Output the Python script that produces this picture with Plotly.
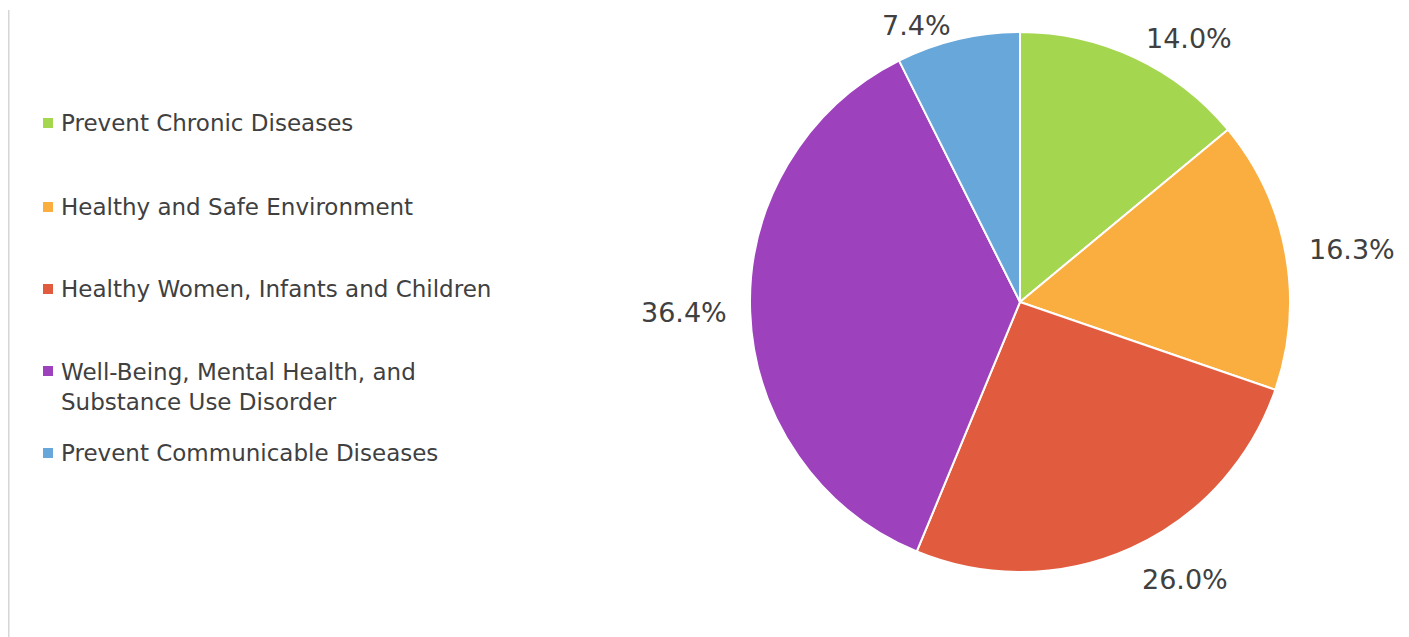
import math
import plotly.graph_objects as go

categories = [
    "Prevent Chronic Diseases",
    "Healthy and Safe Environment",
    "Healthy Women, Infants and Children",
    "Well-Being, Mental Health, and<br>Substance Use Disorder",
    "Prevent Communicable Diseases",
]
values = [14.0, 16.3, 26.0, 36.4, 7.4]
colors = ["#A4D74F", "#FAAE40", "#E15C3F", "#9D42BC", "#67A7D9"]

W, H = 1409, 637
OFF = 8  # page body margin offset
TEXT = "#404040"
FONT = "DejaVu Sans"


def px_x(x):
    return (x - OFF) / W


def px_y(y):
    return 1 - (y - OFF) / H


# pie domain (paper)
dx = [px_x(750), px_x(1290)]
dy = [px_y(572), px_y(32)]

fig = go.Figure()
fig.add_trace(go.Pie(
    labels=[c.replace("<br>", " ") for c in categories],
    values=values,
    sort=False,
    direction="clockwise",
    rotation=0,
    marker=dict(colors=colors, line=dict(color="#FFFFFF", width=2)),
    textinfo="none",
    showlegend=False,
    domain=dict(x=dx, y=dy),
    hoverinfo="label+value",
))

# pie geometry in page pixels (from domain)
cx = (dx[0] + dx[1]) / 2 * W + OFF
cy = (1 - (dy[0] + dy[1]) / 2) * H + OFF
r = min((dx[1] - dx[0]) * W, (dy[1] - dy[0]) * H) / 2
R = r * 1.08

annotations = []
total = sum(values)
cum = 0.0
for v in values:
    mid = (cum + v / 2) / total * 2 * math.pi
    cum += v
    s, c = math.sin(mid), math.cos(mid)
    px = cx + R * s
    py = cy - R * c + (12 if c < -0.8 else 0)
    py = max(py, 26)  # keep label inside the canvas
    xa = "left" if s > 0.05 else ("right" if s < -0.05 else "center")
    annotations.append(dict(
        x=px_x(px), y=px_y(py), xref="paper", yref="paper",
        text=f"{v:.1f}%", showarrow=False, xanchor=xa, yanchor="middle",
        font=dict(family=FONT, size=27, color=TEXT),
    ))

# legend (manual)
legend_y = [123, 207, 289, 387, 453]
shapes = []
for name, col, ly in zip(categories, colors, legend_y):
    nlines = name.count("<br>") + 1
    marker_y = ly - (nlines - 1) * 16
    annotations.append(dict(
        x=px_x(59), y=px_y(ly), xref="paper", yref="paper",
        text=name, showarrow=False, xanchor="left", yanchor="middle",
        align="left", font=dict(family=FONT, size=23, color=TEXT),
    ))
    shapes.append(dict(
        type="rect", xref="paper", yref="paper",
        x0=px_x(43), x1=px_x(53), y0=px_y(marker_y + 5), y1=px_y(marker_y - 5),
        fillcolor=col, line=dict(width=0),
    ))

shapes.append(dict(
    type="line", xref="paper", yref="paper",
    x0=px_x(8), x1=px_x(8), y0=0, y1=px_y(10),
    line=dict(color="#D6D6D6", width=3),
))

fig.update_layout(
    width=W, height=H,
    margin=dict(l=0, r=0, t=0, b=0),
    paper_bgcolor="white", plot_bgcolor="white",
    annotations=annotations, shapes=shapes,
    showlegend=False,
)

fig.write_html("out.html")
